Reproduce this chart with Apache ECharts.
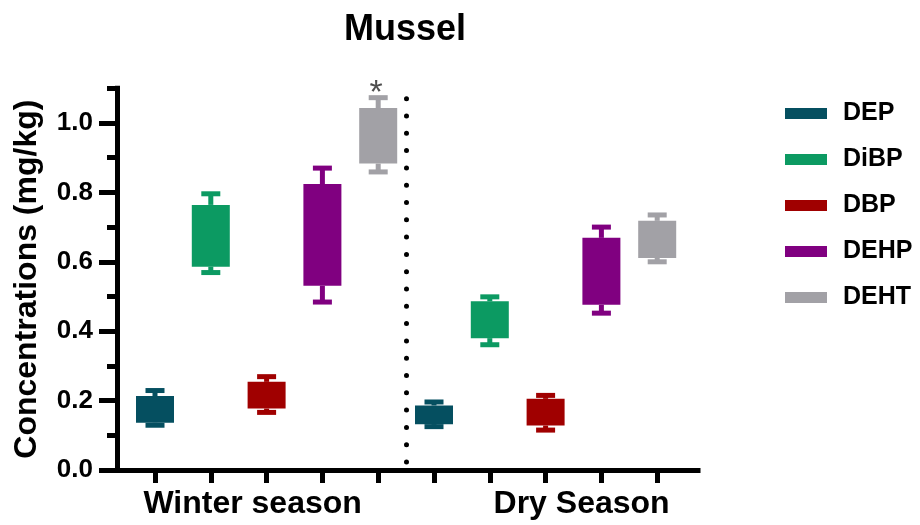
<!DOCTYPE html>
<html>
<head>
<meta charset="utf-8">
<script src="https://cdn.jsdelivr.net/npm/echarts@6/dist/echarts.min.js"></script>
<style>html,body{margin:0;padding:0;background:#fff}#c{width:920px;height:525px}</style>
</head>
<body>
<div id="c"></div>
<script>
// ---------- data ----------
const seasons = ['Winter season', 'Dry Season'];
const compounds = ['DEP', 'DiBP', 'DBP', 'DEHP', 'DEHT'];
const colors = ['#054f60', '#0c9a62', '#a00000', '#800080', '#a2a1a6'];
// each entry: [min, Q1, median, Q3, max] for [winter, dry]
const DEP  = [[0.129, 0.136, 0.170, 0.213, 0.229], [0.125, 0.132, 0.160, 0.186, 0.196]];
const DiBP = [[0.569, 0.586, 0.680, 0.764, 0.796], [0.361, 0.380, 0.442, 0.486, 0.499]];
const DBP  = [[0.166, 0.177, 0.220, 0.254, 0.269], [0.115, 0.128, 0.170, 0.205, 0.215]];
const DEHP = [[0.484, 0.531, 0.680, 0.824, 0.870], [0.452, 0.476, 0.570, 0.669, 0.700]];
const DEHT = [[0.859, 0.883, 0.960, 1.043, 1.073], [0.600, 0.611, 0.660, 0.718, 0.735]];
const yTickLabels = ['0.0', '0.2', '0.4', '0.6', '0.8', '1.0'];
const significance = [{ season: 0, compound: 'DEHT', mark: '*' }];

// ---------- build ----------
const compoundData = [DEP, DiBP, DBP, DEHP, DEHT];
const slots = [];
seasons.forEach(s => compounds.forEach(c => slots.push(s + ' ' + c)));
const nC = compounds.length;
const mid = Math.floor(nC / 2);

const BOX_W = 38, CAP_W = 19, LW = 5;
function renderBox(params, api) {
  const x = api.value(0);
  const vals = [1, 2, 3, 4, 5].map(i => api.value(i));
  const p = vals.map(v => api.coord([x, v]));
  const cx = p[0][0];
  const color = api.visual('color');
  const ls = { stroke: color, lineWidth: LW, fill: null };
  return {
    type: 'group',
    children: [
      { type: 'line', shape: { x1: cx, y1: p[3][1], x2: cx, y2: p[4][1] }, style: ls },
      { type: 'line', shape: { x1: cx, y1: p[1][1], x2: cx, y2: p[0][1] }, style: ls },
      { type: 'line', shape: { x1: cx - CAP_W / 2, y1: p[4][1], x2: cx + CAP_W / 2, y2: p[4][1] }, style: ls },
      { type: 'line', shape: { x1: cx - CAP_W / 2, y1: p[0][1], x2: cx + CAP_W / 2, y2: p[0][1] }, style: ls },
      { type: 'rect', shape: { x: cx - BOX_W / 2, y: p[3][1], width: BOX_W, height: p[1][1] - p[3][1] }, style: { fill: color, stroke: null } }
    ]
  };
}

const series = compounds.map((name, ci) => ({
  name,
  type: 'custom',
  xAxisIndex: 0,
  yAxisIndex: 0,
  itemStyle: { color: colors[ci] },
  encode: { x: 0, y: [1, 2, 3, 4, 5] },
  renderItem: renderBox,
  data: compoundData[ci].map((v, si) => [si * nC + ci].concat(v))
}));

// significance marks
series.push({
  type: 'scatter',
  xAxisIndex: 0,
  yAxisIndex: 0,
  symbolSize: 0,
  silent: true,
  data: significance.map(s => {
    const ci = compounds.indexOf(s.compound);
    return { value: [s.season * nC + ci, compoundData[ci][s.season][4]], mark: s.mark };
  }),
  label: {
    show: true, position: 'inside', offset: [-2, -4],
    formatter: p => p.data.mark,
    fontFamily: 'Liberation Sans', fontSize: 34, fontWeight: 'normal', color: '#222'
  }
});

// season separator (between last winter slot and first dry slot)
const sepX = nC - 0.5;
series.push({
  type: 'line', xAxisIndex: 1, yAxisIndex: 1, data: [], clip: false, silent: true,
  markLine: {
    silent: true, symbol: ['none', 'none'], label: { show: false },
    lineStyle: { color: '#000', width: 5, type: [0, 17.3], cap: 'round' },
    data: [[{ coord: [sepX, 0.023] }, { coord: [sepX, 1.1] }]]
  }
});

const AXIS_X = 117, X_END = 698, FIRST_C = 155, STEP = 55.8;
const TOP = 88.3, BOTTOM_Y = 470, H = BOTTOM_Y - TOP;
const Y1 = 123;

const font = 'Liberation Sans';
const option = {
  animation: false,
  backgroundColor: '#fff',
  title: {
    text: 'Mussel', left: 400, top: 7, textAlign: 'center',
    textStyle: { fontFamily: font, fontSize: 36, fontWeight: 'bold', color: '#000' }
  },
  legend: {
    data: compounds, orient: 'vertical', left: 780, top: 96,
    icon: 'rect', itemWidth: 42, itemHeight: 11, itemGap: 21,
    formatter: n => '{t|' + n + '}',
    textStyle: {
      color: '#000',
      rich: { t: { fontFamily: font, fontSize: 25, fontWeight: 'bold', color: '#000', padding: [0, 0, 0, 11] } }
    }
  },
  grid: [
    { left: FIRST_C - STEP / 2, width: STEP * slots.length, top: TOP, height: H },
    { left: AXIS_X, width: X_END - AXIS_X, top: TOP, height: H },
    { left: AXIS_X, width: X_END - AXIS_X, top: Y1, height: BOTTOM_Y - Y1 }
  ],
  xAxis: [
    {
      gridIndex: 0, type: 'category', data: slots, boundaryGap: true,
      axisLine: { show: false },
      axisTick: { show: true, alignWithLabel: true, interval: 0, length: 13, lineStyle: { color: '#000', width: 5 } },
      axisLabel: {
        interval: 0, margin: 18, color: '#000',
        formatter: (v, i) => {
          if (i % nC !== mid) return '';
          const s = Math.floor(i / nC);
          return '{s' + s + '|' + seasons[s] + '}';
        },
        rich: {
          s0: { fontFamily: font, fontSize: 32, fontWeight: 'bold', color: '#000', padding: [0, 28, 0, 0] },
          s1: { fontFamily: font, fontSize: 32, fontWeight: 'bold', color: '#000', padding: [0, 0, 0, 72] }
        }
      },
      splitLine: { show: false }
    },
    {
      gridIndex: 1, type: 'value',
      min: (AXIS_X - FIRST_C) / STEP, max: (X_END - FIRST_C) / STEP,
      axisLine: { show: true, onZero: false, lineStyle: { color: '#000', width: 5, cap: 'square' } },
      axisTick: { show: false }, axisLabel: { show: false }, splitLine: { show: false }
    },
    { gridIndex: 2, type: 'value', min: 0, max: 1, show: false }
  ],
  yAxis: [
    { gridIndex: 0, type: 'value', min: 0, max: 1.1, show: false },
    {
      gridIndex: 1, type: 'value', min: 0, max: 1.1, interval: 0.1,
      name: 'Concentrations (mg/kg)', nameLocation: 'middle', nameGap: 74,
      nameTextStyle: { fontFamily: font, fontSize: 32, fontWeight: 'bold', color: '#000' },
      axisLine: { show: true, onZero: false, lineStyle: { color: '#000', width: 5, cap: 'square' } },
      axisTick: { show: true, length: 10, lineStyle: { color: '#000', width: 5 } },
      axisLabel: { show: false }, splitLine: { show: false }
    },
    {
      gridIndex: 2, type: 'value', min: 0, max: 1, interval: 0.2,
      axisLine: { show: false, onZero: false },
      axisTick: { show: true, length: 18, lineStyle: { color: '#000', width: 5 } },
      axisLabel: {
        margin: 24, color: '#000', fontFamily: font, fontSize: 26, fontWeight: 'bold',
        formatter: v => yTickLabels[Math.round(v / 0.2)]
      },
      splitLine: { show: false }
    }
  ],
  series
};
const chart = echarts.init(document.getElementById('c'), null, { renderer: 'canvas' });
chart.setOption(option);
</script>
</body>
</html>
